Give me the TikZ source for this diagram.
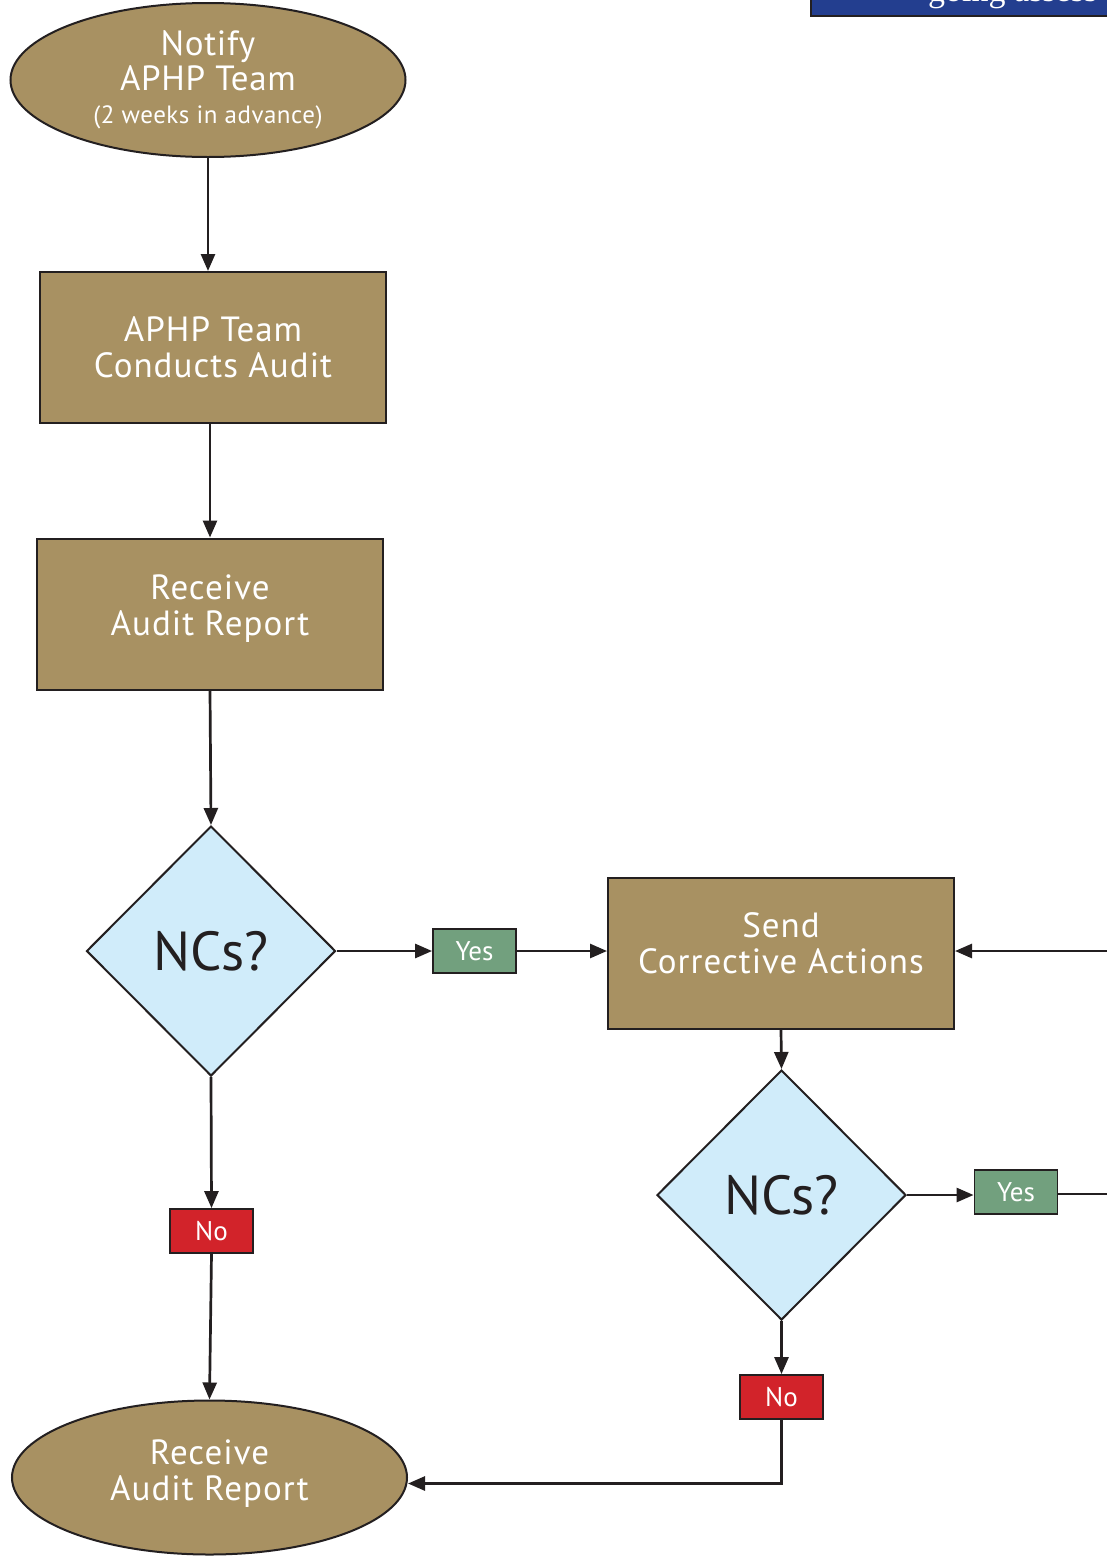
\documentclass[tikz,border=0pt]{standalone}
\usepackage{fontspec}
\setmainfont{PT Sans}
\newfontfamily\headserif{Liberation Serif}
\usetikzlibrary{shapes.geometric,arrows.meta}
\definecolor{aphpbrown}{RGB}{168,145,98}
\definecolor{ncblue}{RGB}{208,236,250}
\definecolor{yesgreen}{RGB}{114,160,126}
\definecolor{nored}{RGB}{210,35,42}
\definecolor{navy}{RGB}{35,62,143}
\definecolor{ink}{RGB}{35,31,32}
\tikzset{
  base/.style={draw=ink, line width=2pt, text=white, align=center, inner sep=0pt},
  boxtext/.style={text=white, align=center, inner sep=0pt, font=\fontsize{35}{36}\selectfont\addfontfeature{LetterSpace=3}},
  ovalbox/.style={base, ellipse, fill=aphpbrown, minimum width=395pt, minimum height=154pt, font=\fontsize{35}{35}\selectfont\addfontfeature{LetterSpace=2}},
  procbox/.style={base, rectangle, fill=aphpbrown, minimum width=346pt, minimum height=151pt},
  decbox/.style={base, diamond, fill=ncblue, text=ink, minimum width=249pt, minimum height=250pt, font=\fontsize{55}{58}\selectfont},
  tagbox/.style={base, rectangle, minimum width=83pt, minimum height=44pt, font=\fontsize{27}{28}\selectfont, line width=1.8pt},
  yestag/.style={tagbox, fill=yesgreen},
  notag/.style={tagbox, fill=nored},
  arr/.style={draw=ink, line width=2.7pt, -{Triangle[length=17pt,width=14pt]}},
  plain/.style={draw=ink, line width=2.7pt}
}
\begin{document}
\begin{tikzpicture}[x=1pt,y=-1pt]
\clip (0,0) rectangle (1107,1556);
\fill[white] (0,0) rectangle (1107,1556);
% partial banner at top right
\node[draw=ink, line width=2pt, fill=navy, minimum width=320pt, minimum height=40pt, anchor=south west, inner sep=0pt] (banner) at (810,17) {};
\node[text=white, anchor=base west, inner sep=0pt, font=\headserif\fontsize{34}{36}\selectfont] (bannertext) at (928,1) {going assess};
% nodes
\node[ovalbox] (notify) at (208,80) {Notify\\APHP Team\\[-2pt]{\fontsize{25}{28}\selectfont (2 weeks in advance)}};
\node[procbox, label={[boxtext, yshift=0pt]center:APHP Team\\Conducts Audit}] (conducts) at (213,347.5) {};
\node[procbox, label={[boxtext, yshift=5pt]center:Receive\\Audit Report}] (report) at (210,614) {};
\node[decbox] (d1) at (211,951) {NCs?};
\node[yestag] (yes1) at (474.5,951) {Yes};
\node[procbox, label={[boxtext, yshift=10pt]center:Send\\Corrective Actions}] (send) at (781,953) {};
\node[decbox] (d2) at (781.5,1195) {NCs?};
\node[yestag] (yes2) at (1016,1192) {Yes};
\node[notag] (no1) at (211.5,1231) {No};
\node[notag] (no2) at (781.5,1397) {No};
\node[ovalbox, label={[boxtext, yshift=4pt]center:Receive\\Audit Report}] (recv) at (209.5,1477.5) {};
\coordinate (inA) at (1120,951);
\coordinate (outB) at (1120,1194);
% connectors
\draw[arr] (notify.south) -- (notify.south |- conducts.north);
\draw[arr] (report.north |- conducts.south) -- (report.north);
\draw[arr] (report.south) -- (d1.north);
\draw[arr] (d1.east) -- (yes1.west);
\draw[arr] (yes1.east) -- (send.west |- yes1.east);
\draw[arr] (inA) -- (send.east |- inA);
\draw[arr] (send.south) -- (d2.north);
\draw[arr] (d2.east) -- (yes2.west |- d2.east);
\draw[plain] (yes2.east |- outB) -- (outB);
\draw[arr] (d2.south) -- (no2.north);
\draw[arr] (d1.south) -- (no1.north);
\draw[arr] (no1.south) -- (recv.north);
\draw[arr] (no2.south) |- ([yshift=-6pt]recv.east);
\end{tikzpicture}
\end{document}
